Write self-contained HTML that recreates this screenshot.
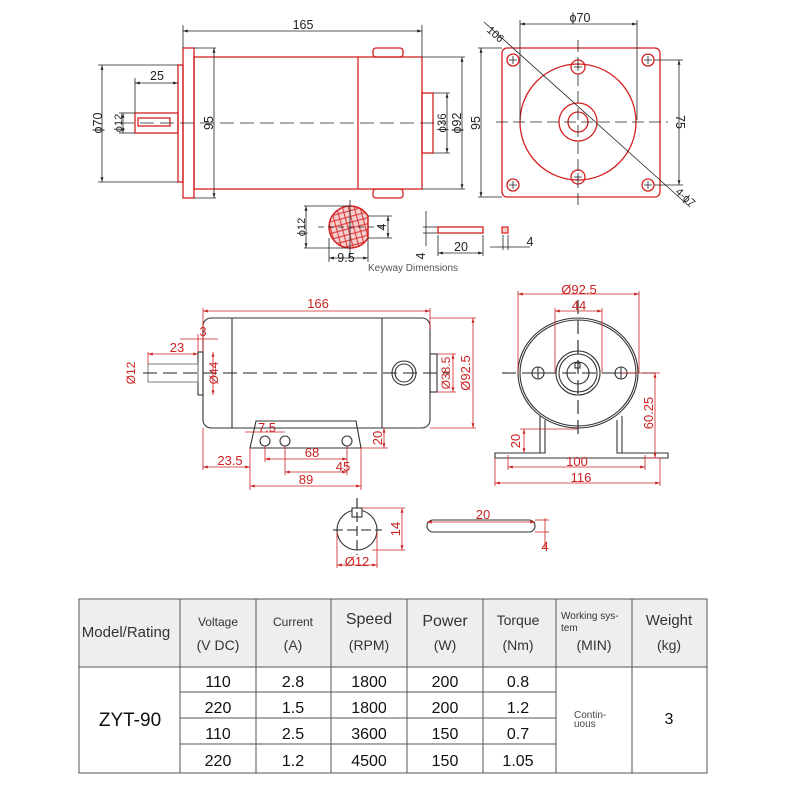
<!DOCTYPE html>
<html><head><meta charset="utf-8"><style>
html,body{margin:0;padding:0;background:#fff;}
svg{display:block;font-family:"Liberation Sans",Arial,sans-serif;}
</style></head><body>
<svg width="800" height="800" viewBox="0 0 800 800" xmlns="http://www.w3.org/2000/svg">
<defs>
<pattern id="hatch" width="8" height="8" patternUnits="userSpaceOnUse" patternTransform="rotate(30)">
<rect width="8" height="8" fill="#f3d0d0"/>
<path d="M0 0L8 8M8 0L0 8" stroke="#d33" stroke-width="1"/>
</pattern>
<marker id="a" viewBox="0 0 10 10" refX="10" refY="5" markerWidth="6" markerHeight="6" orient="auto-start-reverse"><path d="M0 2L10 5L0 8z" fill="#222"/></marker>
<marker id="r" viewBox="0 0 10 10" refX="10" refY="5" markerWidth="6" markerHeight="6" orient="auto-start-reverse"><path d="M0 2L10 5L0 8z" fill="#c22"/></marker>
</defs>
<rect width="800" height="800" fill="#fff"/>

<!-- TOP LEFT MOTOR -->
<g fill="none" stroke="#d42020" stroke-width="1.3">
<rect x="183" y="48" width="11" height="150"/>
<rect x="194" y="57" width="228" height="132"/>
<line x1="358" y1="57" x2="358" y2="189"/>
<rect x="178" y="65" width="5" height="117"/>
<rect x="135" y="113" width="43" height="20"/>
<rect x="138" y="118" width="32" height="8"/>
<rect x="373" y="48" width="30" height="9" rx="3"/>
<rect x="373" y="189" width="30" height="9" rx="3"/>
<rect x="422" y="93" width="11" height="60"/>
</g>
<g stroke="#222" stroke-width="0.8" fill="none">
<line x1="120" y1="123" x2="445" y2="123" stroke-dasharray="14 6"/>
<line x1="183" y1="31" x2="422" y2="31" marker-start="url(#a)" marker-end="url(#a)"/>
<line x1="183" y1="25" x2="183" y2="48"/><line x1="422" y1="25" x2="422" y2="57"/>
<line x1="135" y1="83" x2="178" y2="83" marker-start="url(#a)" marker-end="url(#a)"/>
<line x1="135" y1="78" x2="135" y2="113"/>
<line x1="102" y1="65" x2="102" y2="182" marker-start="url(#a)" marker-end="url(#a)"/>
<line x1="98" y1="65" x2="178" y2="65"/><line x1="98" y1="182" x2="178" y2="182"/>
<line x1="123" y1="113" x2="123" y2="133" marker-start="url(#a)" marker-end="url(#a)"/>
<line x1="119" y1="113" x2="135" y2="113"/><line x1="119" y1="133" x2="135" y2="133"/>
<line x1="214" y1="48" x2="214" y2="198" marker-start="url(#a)" marker-end="url(#a)"/>
<line x1="194" y1="48" x2="216" y2="48"/><line x1="194" y1="198" x2="216" y2="198"/>
<line x1="447" y1="93" x2="447" y2="153" marker-start="url(#a)" marker-end="url(#a)"/>
<line x1="433" y1="93" x2="450" y2="93"/><line x1="433" y1="153" x2="450" y2="153"/>
<line x1="462" y1="57" x2="462" y2="189" marker-start="url(#a)" marker-end="url(#a)"/>
<line x1="422" y1="57" x2="465" y2="57"/><line x1="422" y1="189" x2="465" y2="189"/>
<line x1="481" y1="48" x2="481" y2="197" marker-start="url(#a)" marker-end="url(#a)"/>
<line x1="478" y1="48" x2="502" y2="48"/><line x1="478" y1="197" x2="502" y2="197"/>
</g>
<g font-size="12.5" fill="#222" text-anchor="middle">
<text x="303" y="29">165</text>
<text x="157" y="80">25</text>
<text transform="translate(102,123) rotate(-90)" >ϕ70</text>
<text transform="translate(122,123) rotate(-90)" font-size="11">ϕ12</text>
<text transform="translate(213,123) rotate(-90)">95</text>
<text transform="translate(446,123) rotate(-90)" font-size="11.5">ϕ36</text>
<text transform="translate(461,123) rotate(-90)">ϕ92</text>
<text transform="translate(480,123) rotate(-90)">95</text>
</g>

<!-- KEYWAY -->
<path d="M368 216 A21 21 0 1 0 368 238 L368 216 Z" fill="url(#hatch)" stroke="#d42020" stroke-width="1.5"/>
<g stroke="#222" stroke-width="0.8" fill="none">
<line x1="350" y1="200" x2="350" y2="258"/>
<line x1="318" y1="227" x2="385" y2="227" stroke-dasharray="6 4"/>
<line x1="306" y1="206" x2="306" y2="248" marker-start="url(#a)" marker-end="url(#a)"/>
<line x1="304" y1="206" x2="350" y2="206"/><line x1="304" y1="248" x2="350" y2="248"/>
<line x1="388" y1="216" x2="388" y2="238" marker-start="url(#a)" marker-end="url(#a)"/>
<line x1="368" y1="216" x2="392" y2="216"/><line x1="368" y1="238" x2="392" y2="238"/>
<line x1="329" y1="258" x2="368" y2="258" marker-start="url(#a)" marker-end="url(#a)"/>
<line x1="329" y1="238" x2="329" y2="262"/><line x1="368" y1="238" x2="368" y2="262"/>
<line x1="426" y1="211" x2="426" y2="246"/>
<line x1="423" y1="227" x2="438" y2="227"/><line x1="423" y1="233" x2="438" y2="233"/>
<line x1="438" y1="235" x2="438" y2="256"/><line x1="483" y1="235" x2="483" y2="256"/>
<line x1="438" y1="253" x2="483" y2="253" marker-start="url(#a)" marker-end="url(#a)"/>
<line x1="490" y1="247" x2="530" y2="247"/>
<line x1="503" y1="235" x2="503" y2="250"/><line x1="508" y1="235" x2="508" y2="250"/>
</g>
<rect x="438" y="227" width="45" height="6" fill="none" stroke="#d42020" stroke-width="1.3"/>
<rect x="502" y="227" width="6" height="6" fill="#f3d0d0" stroke="#d42020" stroke-width="1.2"/>
<g font-size="12.5" fill="#222" text-anchor="middle">
<text transform="translate(305,227) rotate(-90)" font-size="11">ϕ12</text>
<text transform="translate(386,227) rotate(-90)">4</text>
<text x="346" y="262">9.5</text>
<text transform="translate(425,256) rotate(-90)">4</text>
<text x="461" y="251">20</text>
<text x="530" y="246">4</text>
</g>
<text x="368" y="271" font-size="10" fill="#555">Keyway Dimensions</text>

<!-- TOP RIGHT FLANGE -->
<g fill="none" stroke="#d42020" stroke-width="1.3">
<rect x="502" y="48" width="158" height="149" rx="5"/>
<circle cx="578" cy="122" r="58"/>
<circle cx="578" cy="122" r="19"/>
<circle cx="578" cy="122" r="10"/>
<circle cx="513" cy="60" r="6"/><circle cx="648" cy="60" r="6"/>
<circle cx="513" cy="185" r="6"/><circle cx="648" cy="185" r="6"/>
<circle cx="578" cy="67" r="7"/><circle cx="578" cy="177" r="7"/>
</g>
<g stroke="#222" stroke-width="0.8" fill="none">
<line x1="496" y1="122" x2="668" y2="122" stroke-dasharray="12 5"/>
<line x1="578" y1="40" x2="578" y2="205" stroke-dasharray="12 5"/>
<path d="M509 60h8M513 56v8M644 60h8M648 56v8M509 185h8M513 181v8M644 185h8M648 181v8M574 67h8M578 63v8M574 177h8M578 173v8"/>
<line x1="520" y1="24" x2="637" y2="24" marker-start="url(#a)" marker-end="url(#a)"/>
<line x1="520" y1="20" x2="520" y2="120"/><line x1="637" y1="20" x2="637" y2="120"/>
<line x1="679" y1="60" x2="679" y2="185" marker-start="url(#a)" marker-end="url(#a)"/>
<line x1="654" y1="60" x2="683" y2="60"/><line x1="654" y1="185" x2="683" y2="185"/>
<line x1="484" y1="22" x2="690" y2="207"/>
</g>
<g font-size="12.5" fill="#222" text-anchor="middle">
<text x="580" y="22">ϕ70</text>
<text transform="translate(676,122) rotate(90)">75</text>
<text transform="translate(493,37) rotate(42)" font-size="11">106</text>
<text transform="translate(683,200) rotate(42)" font-size="11">4-ϕ7</text>
</g>

<!-- MIDDLE LEFT MOTOR -->
<g fill="none" stroke="#333" stroke-width="1.1">
<rect x="203" y="318" width="227" height="110" rx="8"/>
<line x1="232" y1="318" x2="232" y2="428"/>
<line x1="382" y1="318" x2="382" y2="428"/>
<rect x="198" y="352" width="5" height="43"/>
<rect x="148" y="364" width="50" height="18" stroke="#888"/>
<rect x="430" y="354" width="7" height="38"/>
<circle cx="404" cy="373" r="12"/><circle cx="404" cy="373" r="9"/>
<path d="M256 421 L356 421 L361 448 L250 448 Z"/>
<circle cx="265" cy="441" r="5"/><circle cx="285" cy="441" r="5"/><circle cx="347" cy="441" r="5"/>
<line x1="143" y1="373" x2="450" y2="373" stroke="#222" stroke-width="0.9" stroke-dasharray="14 6"/>
</g>
<g stroke="#c22" stroke-width="0.8" fill="none">
<line x1="203" y1="311" x2="430" y2="311" marker-start="url(#r)" marker-end="url(#r)"/>
<line x1="203" y1="308" x2="203" y2="330"/><line x1="430" y1="308" x2="430" y2="330"/>
<line x1="473" y1="318" x2="473" y2="428" marker-start="url(#r)" marker-end="url(#r)"/>
<line x1="430" y1="318" x2="476" y2="318"/><line x1="430" y1="428" x2="476" y2="428"/>
<line x1="453" y1="354" x2="453" y2="392" marker-start="url(#r)" marker-end="url(#r)"/>
<line x1="437" y1="354" x2="456" y2="354"/><line x1="437" y1="392" x2="456" y2="392"/>
<line x1="213" y1="352" x2="213" y2="395" marker-start="url(#r)" marker-end="url(#r)"/>
<line x1="148" y1="354" x2="198" y2="354" marker-start="url(#r)" marker-end="url(#r)"/>
<line x1="148" y1="352" x2="148" y2="364"/>
<line x1="180" y1="339" x2="218" y2="339"/>
<line x1="198" y1="334" x2="198" y2="352"/><line x1="203" y1="334" x2="203" y2="352"/>
<line x1="245" y1="432" x2="285" y2="432"/>
<line x1="265" y1="459" x2="347" y2="459" marker-start="url(#r)" marker-end="url(#r)"/>
<line x1="285" y1="472" x2="347" y2="472" marker-start="url(#r)" marker-end="url(#r)"/>
<line x1="265" y1="446" x2="265" y2="462"/><line x1="285" y1="446" x2="285" y2="475"/><line x1="347" y1="446" x2="347" y2="475"/>
<line x1="250" y1="486" x2="361" y2="486" marker-start="url(#r)" marker-end="url(#r)"/>
<line x1="250" y1="448" x2="250" y2="490"/><line x1="361" y1="448" x2="361" y2="490"/>
<line x1="203" y1="467" x2="250" y2="467" marker-start="url(#r)" marker-end="url(#r)"/>
<line x1="203" y1="428" x2="203" y2="470"/>
<line x1="384" y1="428" x2="384" y2="448" marker-start="url(#r)" marker-end="url(#r)"/>
<line x1="361" y1="448" x2="388" y2="448"/>
</g>
<g font-size="13" fill="#c22" text-anchor="middle">
<text x="318" y="308">166</text>
<text transform="translate(470,373) rotate(-90)">Ø92.5</text>
<text transform="translate(450,373) rotate(-90)" font-size="12">Ø38.5</text>
<text transform="translate(218,373) rotate(-90)" font-size="12">Ø44</text>
<text transform="translate(135,373) rotate(-90)" font-size="12">Ø12</text>
<text x="177" y="352">23</text>
<text x="203" y="336">3</text>
<text x="267" y="432">7.5</text>
<text x="312" y="457">68</text>
<text x="343" y="471">45</text>
<text x="306" y="484">89</text>
<text x="230" y="465">23.5</text>
<text transform="translate(382,438) rotate(-90)">20</text>
</g>

<!-- MIDDLE RIGHT END VIEW -->
<g fill="none" stroke="#333" stroke-width="1.1">
<path d="M545 420 L545 453 L495 453 L495 458 L668 458 L668 453 L617 453 L617 420"/>
<path d="M540 416 L540 453 M622 416 L622 453"/>
<ellipse cx="578" cy="373" rx="60" ry="55" fill="#fff"/>
<ellipse cx="578" cy="373" rx="58" ry="53"/>
<circle cx="578" cy="373" r="22"/><circle cx="578" cy="373" r="19"/>
<circle cx="578" cy="373" r="11"/>
<rect x="575" y="363" width="5" height="5"/>
<circle cx="538" cy="373" r="6"/><circle cx="621" cy="373" r="6"/>
<path d="M532 373h12M538 367v12M615 373h12M621 367v12"/>
<line x1="502" y1="373" x2="660" y2="373" stroke="#222" stroke-dasharray="14 6"/>
<line x1="578" y1="300" x2="578" y2="440" stroke="#222" stroke-dasharray="14 6"/>
</g>
<g stroke="#c22" stroke-width="0.8" fill="none">
<line x1="518" y1="294" x2="639" y2="294" marker-start="url(#r)" marker-end="url(#r)"/>
<line x1="518" y1="291" x2="518" y2="373"/><line x1="639" y1="291" x2="639" y2="373"/>
<line x1="555" y1="311" x2="602" y2="311" marker-start="url(#r)" marker-end="url(#r)"/>
<line x1="555" y1="308" x2="555" y2="373"/><line x1="602" y1="308" x2="602" y2="373"/>
<line x1="508" y1="467" x2="645" y2="467" marker-start="url(#r)" marker-end="url(#r)"/>
<line x1="508" y1="455" x2="508" y2="470"/><line x1="645" y1="455" x2="645" y2="470"/>
<line x1="495" y1="483" x2="660" y2="483" marker-start="url(#r)" marker-end="url(#r)"/>
<line x1="495" y1="458" x2="495" y2="486"/><line x1="660" y1="458" x2="660" y2="486"/>
<line x1="655" y1="373" x2="655" y2="458" marker-start="url(#r)" marker-end="url(#r)"/>
<line x1="621" y1="373" x2="660" y2="373"/><line x1="645" y1="458" x2="660" y2="458"/>
<line x1="524" y1="429" x2="524" y2="453" marker-start="url(#r)" marker-end="url(#r)"/>
<line x1="520" y1="429" x2="578" y2="429"/>
</g>
<g font-size="13" fill="#c22" text-anchor="middle">
<text x="579" y="294">Ø92.5</text>
<text x="579" y="310">44</text>
<text x="577" y="466">100</text>
<text x="581" y="482">116</text>
<text transform="translate(653,413) rotate(-90)">60.25</text>
<text transform="translate(520,441) rotate(-90)">20</text>
</g>

<!-- BOTTOM KEY -->
<g fill="none" stroke="#333" stroke-width="1.1">
<circle cx="357" cy="530" r="20"/>
<rect x="352" y="508" width="10" height="9" fill="#fff"/>
<line x1="357" y1="498" x2="357" y2="555" stroke="#222" stroke-dasharray="10 4"/>
<line x1="333" y1="530" x2="382" y2="530" stroke="#222" stroke-dasharray="10 4"/>
<rect x="427" y="520" width="108" height="12" rx="6"/>
</g>
<g stroke="#c22" stroke-width="0.8" fill="none">
<line x1="402" y1="508" x2="402" y2="550" marker-start="url(#r)" marker-end="url(#r)"/>
<line x1="362" y1="508" x2="405" y2="508"/><line x1="372" y1="550" x2="405" y2="550"/>
<line x1="337" y1="565" x2="377" y2="565" marker-start="url(#r)" marker-end="url(#r)"/>
<line x1="337" y1="532" x2="337" y2="568"/><line x1="377" y1="532" x2="377" y2="568"/>
<line x1="427" y1="522" x2="535" y2="522" marker-start="url(#r)" marker-end="url(#r)"/>
<line x1="545" y1="518" x2="545" y2="548"/>
<line x1="535" y1="520" x2="549" y2="520"/><line x1="535" y1="532" x2="549" y2="532"/>
</g>
<g font-size="13" fill="#c22" text-anchor="middle">
<text transform="translate(400,529) rotate(-90)">14</text>
<text x="357" y="566">Ø12</text>
<text x="483" y="519">20</text>
<text x="545" y="551">4</text>
</g>

<!-- TABLE -->
<rect x="79" y="599" width="628" height="68" fill="#eeeeee"/>
<g stroke="#555" stroke-width="1" fill="none">
<rect x="79" y="599" width="628" height="174"/>
<line x1="79" y1="667" x2="707" y2="667"/>
<line x1="180" y1="599" x2="180" y2="773"/>
<line x1="256" y1="599" x2="256" y2="773"/>
<line x1="331" y1="599" x2="331" y2="773"/>
<line x1="407" y1="599" x2="407" y2="773"/>
<line x1="483" y1="599" x2="483" y2="773"/>
<line x1="556" y1="599" x2="556" y2="773"/>
<line x1="632" y1="599" x2="632" y2="773"/>
<line x1="180" y1="692" x2="556" y2="692"/>
<line x1="180" y1="718" x2="556" y2="718"/>
<line x1="180" y1="744" x2="556" y2="744"/>
</g>
<g fill="#333" text-anchor="middle" font-size="14">
<text x="126" y="637" font-size="15">Model/Rating</text>
<text x="218" y="626" font-size="12">Voltage</text>
<text x="218" y="650">(V DC)</text>
<text x="293" y="626" font-size="12">Current</text>
<text x="293" y="650">(A)</text>
<text x="369" y="624" font-size="16">Speed</text>
<text x="369" y="650">(RPM)</text>
<text x="445" y="626" font-size="16">Power</text>
<text x="445" y="650">(W)</text>
<text x="518" y="625" font-size="14">Torque</text>
<text x="518" y="650">(Nm)</text>
<text x="594" y="650">(MIN)</text>
<text x="669" y="625" font-size="15">Weight</text>
<text x="669" y="650">(kg)</text>
</g>
<text x="561" y="619" font-size="10" fill="#333">Working sys-</text>
<text x="561" y="631" font-size="10" fill="#333">tem</text>
<g fill="#111" text-anchor="middle" font-size="16">
<text x="130" y="726" font-size="19">ZYT-90</text>
<text x="218" y="687">110</text><text x="293" y="687">2.8</text><text x="369" y="687">1800</text><text x="445" y="687">200</text><text x="518" y="687">0.8</text>
<text x="218" y="713">220</text><text x="293" y="713">1.5</text><text x="369" y="713">1800</text><text x="445" y="713">200</text><text x="518" y="713">1.2</text>
<text x="218" y="739">110</text><text x="293" y="739">2.5</text><text x="369" y="739">3600</text><text x="445" y="739">150</text><text x="518" y="739">0.7</text>
<text x="218" y="766">220</text><text x="293" y="766">1.2</text><text x="369" y="766">4500</text><text x="445" y="766">150</text><text x="518" y="766">1.05</text>
<text x="669" y="724">3</text>
</g>
<text x="574" y="718" font-size="10" fill="#444">Contin-</text>
<text x="574" y="727" font-size="10" fill="#444">uous</text>
</svg>
</body></html>
